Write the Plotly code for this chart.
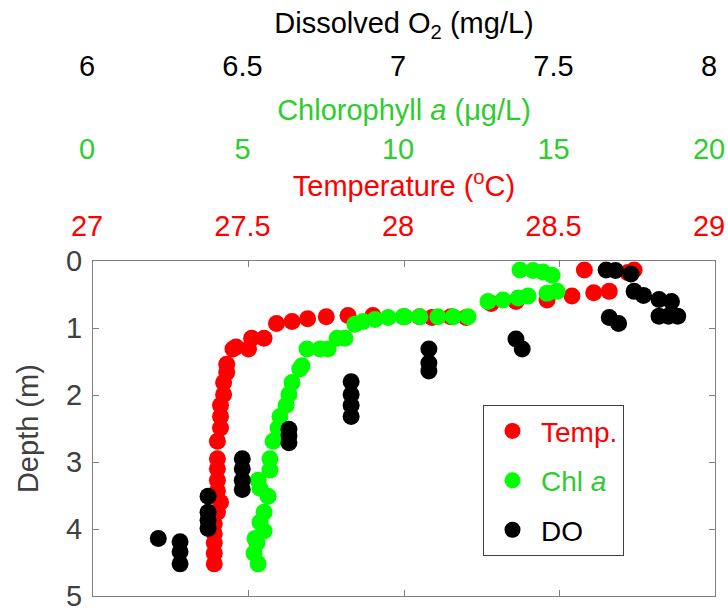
import plotly.graph_objects as go

# ---- data ----
temp_T = [28.58, 28.74, 28.72, 28.66, 28.61, 28.54, 28.46, 28.36, 28.28,
          28.20, 28.15, 28.09, 28.05, 28.00, 27.90, 27.82, 27.75, 27.69, 27.64, 27.59,
          27.55, 27.51, 27.50, 27.46, 27.45,
          27.43, 27.43, 27.42, 27.42, 27.41, 27.41, 27.41, 27.40, 27.40, 27.40,
          27.40, 27.40, 27.41, 27.40, 27.39, 27.39, 27.39, 27.39, 27.39]
temp_d = [0.13, 0.13, 0.17, 0.45, 0.47, 0.52, 0.58, 0.60, 0.63,
          0.84, 0.83, 0.84, 0.83, 0.83, 0.81, 0.81, 0.83, 0.86, 0.90, 0.93,
          1.15, 1.15, 1.31, 1.28, 1.31,
          1.54, 1.66, 1.81, 1.99, 2.15, 2.32, 2.49, 2.69, 2.95, 3.10,
          3.27, 3.43, 3.60, 3.75, 3.92, 4.07, 4.21, 4.36, 4.52]

chl_C = [13.73, 14.15, 14.47, 14.76, 14.92, 14.60, 13.99, 13.67, 13.18, 12.70,
         12.06, 11.58, 11.09, 10.51, 10.03, 9.97, 9.49, 9.07, 8.68, 8.42,
         8.10, 7.85, 7.56, 7.30, 6.88, 6.72, 6.65, 6.40, 6.30, 6.21, 6.01, 5.95,
         5.79, 5.69, 5.69, 5.31, 5.37, 5.63, 5.50, 5.37, 5.50, 5.21, 5.27, 5.18, 5.31]
chl_d = [0.13, 0.14, 0.16, 0.21, 0.45, 0.48, 0.52, 0.55, 0.58, 0.60,
         0.83, 0.83, 0.83, 0.83, 0.83, 0.83, 0.84, 0.87, 0.90, 0.94,
         1.15, 1.15, 1.31, 1.31, 1.31, 1.56, 1.61, 1.81, 1.99, 2.15, 2.32, 2.49,
         2.69, 2.95, 3.12, 3.27, 3.39, 3.51, 3.75, 3.90, 4.03, 4.14, 4.21, 4.36, 4.52]

do_O = [6.21, 6.28, 6.28, 6.28, 6.37, 6.37, 6.37, 6.37,
        6.48, 6.48, 6.48, 6.48, 6.63, 6.63, 6.63,
        6.83, 6.83, 6.83, 6.83, 7.08, 7.08, 7.08, 7.36, 7.38,
        7.65, 7.68, 7.73, 7.74, 7.77, 7.66, 7.69, 7.82, 7.86, 7.82, 7.85, 7.88]
do_d = [4.14, 4.19, 4.34, 4.52, 3.51, 3.75, 3.87, 3.99,
        2.95, 3.10, 3.27, 3.41, 2.51, 2.61, 2.71,
        1.80, 1.99, 2.15, 2.32, 1.31, 1.52, 1.64, 1.16, 1.31,
        0.13, 0.14, 0.19, 0.45, 0.51, 0.84, 0.93, 0.57, 0.60, 0.82, 0.82, 0.82]

temp_ticks = [27, 27.5, 28, 28.5, 29]
chl_ticks = [0, 5, 10, 15, 20]
do_ticks = [6, 6.5, 7, 7.5, 8]
depth_ticks = [0, 1, 2, 3, 4, 5]

RED = "#FF0000"
GREEN = "#00FF00"
GREEN_TXT = "#2ECC2E"
GRAY = "#808080"
DARK = "#404040"
FONT = "Liberation Sans, Arial, sans-serif"
FS = 29
MS = 17

fig = go.Figure()
fig.add_trace(go.Scatter(x=temp_T, y=temp_d, mode="markers", xaxis="x", yaxis="y",
                         marker=dict(color=RED, size=MS),
                         name="<span style='color:#FF0000'>Temp.</span>", legendgroup="a"))
fig.add_trace(go.Scatter(x=chl_C, y=chl_d, mode="markers", xaxis="x2", yaxis="y",
                         marker=dict(color=GREEN, size=MS),
                         name="<span style='color:#2ECC2E'>Chl <i>a</i></span>", legendgroup="b"))
fig.add_trace(go.Scatter(x=do_O, y=do_d, mode="markers", xaxis="x3", yaxis="y",
                         marker=dict(color="black", size=MS),
                         name="DO", legendgroup="c"))

H = 613
B = 17
PH = H - B
ytop = (PH - 252) / PH
pos2 = (PH - 166.5) / PH
pos3 = (PH - 80.5) / PH

fig.update_layout(
    width=728, height=H,
    margin=dict(l=93, r=13, t=0, b=B),
    plot_bgcolor="white", paper_bgcolor="white",
    font=dict(family=FONT, size=FS, color="black"),
    showlegend=True,
    legend=dict(x=(483 - 93) / 622, y=(PH - 400) / PH, xanchor="left", yanchor="top",
                bordercolor="#404040", borderwidth=1, bgcolor="white",
                font=dict(size=28, family=FONT), tracegroupgap=10,
                itemwidth=47, entrywidth=131),
    xaxis=dict(domain=[0, 1], range=[27, 29], side="top", anchor="y",
               tickvals=temp_ticks, ticktext=[str(v) for v in temp_ticks],
               tickfont=dict(color=RED, size=FS), showline=True, linecolor=GRAY,
               linewidth=1, mirror="ticks", ticks="inside", ticklen=6, tickcolor=GRAY,
               ticklabelstandoff=13, ticklabelshift=-6, ticklabeloverflow="allow",
               showgrid=False, zeroline=False,
               title=dict(text="Temperature (<sup>o</sup>C)", font=dict(color=RED, size=FS),
                          standoff=4)),
    xaxis2=dict(range=[0, 20], side="top", overlaying="x", anchor="free", position=pos2,
                tickvals=chl_ticks, ticktext=[str(v) for v in chl_ticks],
                tickfont=dict(color=GREEN_TXT, size=FS), showline=False, ticks="",
                ticklabelstandoff=13, ticklabelshift=-6, ticklabeloverflow="allow",
                showgrid=False, zeroline=False,
                title=dict(text="Chlorophyll <i>a</i> (μg/L)", font=dict(color=GREEN_TXT, size=FS),
                           standoff=3)),
    xaxis3=dict(range=[6, 8], side="top", overlaying="x", anchor="free", position=pos3,
                tickvals=do_ticks, ticktext=[str(v) for v in do_ticks],
                tickfont=dict(color="black", size=FS), showline=False, ticks="",
                ticklabelstandoff=13, ticklabelshift=-6, ticklabeloverflow="allow",
                showgrid=False, zeroline=False,
                title=dict(text="Dissolved O<sub>2</sub> (mg/L)", font=dict(color="black", size=FS),
                           standoff=6)),
    yaxis=dict(domain=[0, ytop], range=[5, 0], anchor="x",
               tickvals=depth_ticks, ticktext=[str(v) for v in depth_ticks],
               tickfont=dict(color=DARK, size=FS), showline=True, linecolor=GRAY,
               linewidth=1, mirror="ticks", ticks="inside", ticklen=6, tickcolor=GRAY,
               ticklabelstandoff=4,
               showgrid=False, zeroline=False,
               title=dict(text="Depth (m)", font=dict(color=DARK, size=FS), standoff=18)),
)

fig.write_html("out.html")
